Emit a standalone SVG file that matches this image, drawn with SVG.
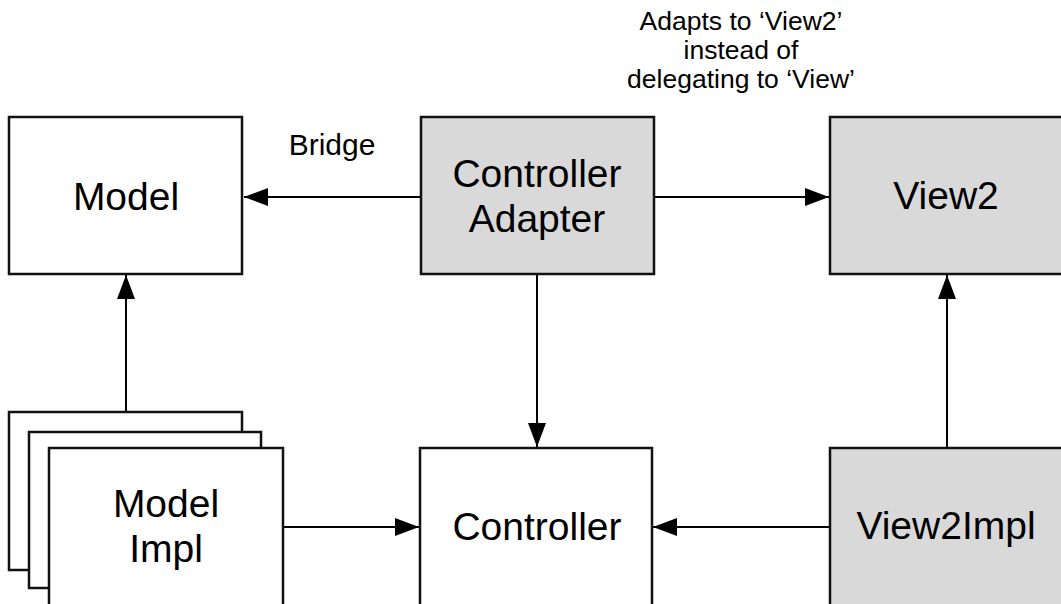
<svg xmlns="http://www.w3.org/2000/svg" width="1061" height="604" viewBox="0 0 1061 604">
<style>
.box{fill:#ffffff;stroke:#111111;stroke-width:2.5}
.gray{fill:#d9d9d9;stroke:#111111;stroke-width:2.5}
.lbl{font-family:"Liberation Sans",Arial,Helvetica,sans-serif;font-size:39px;fill:#000;text-anchor:middle}
.note{font-family:"Liberation Sans",Arial,Helvetica,sans-serif;fill:#000;text-anchor:middle}
.edge{stroke:#000;stroke-width:2;fill:none;marker-end:url(#ah)}
</style>
<defs>
<marker id="ah" markerUnits="userSpaceOnUse" markerWidth="24" markerHeight="18" refX="24" refY="9" orient="auto">
<path d="M0,0 L24,9 L0,18 z" fill="#000"/>
</marker>
</defs>
<rect width="1061" height="604" fill="#ffffff"/>
<g id="connectors">
<line class="edge" x1="421" y1="197" x2="244" y2="197"/>
<line class="edge" x1="654" y1="197" x2="829" y2="197"/>
<line class="edge" x1="537" y1="274" x2="537" y2="447"/>
<line class="edge" x1="947" y1="448" x2="947" y2="275"/>
<line class="edge" x1="830" y1="527" x2="653" y2="527"/>
<line class="edge" x1="283" y1="527" x2="419" y2="527"/>
<line class="edge" x1="126" y1="412" x2="126" y2="275"/>
</g>
<g id="model">
<rect class="box" x="9" y="117" width="233" height="157"/>
<text class="lbl" x="126" y="210">Model</text>
</g>
<g id="controller-adapter">
<rect class="gray" x="421" y="117" width="233" height="157"/>
<text class="lbl" x="537" y="187">Controller</text>
<text class="lbl" x="537" y="232">Adapter</text>
</g>
<g id="view2">
<rect class="gray" x="830" y="117" width="260" height="157"/>
<text class="lbl" x="946" y="209">View2</text>
</g>
<g id="model-impl">
<rect class="box" x="9" y="412" width="233" height="158"/>
<rect class="box" x="29" y="432" width="232" height="156"/>
<rect class="box" x="49" y="448" width="234" height="200"/>
<text class="lbl" x="166" y="517">Model</text>
<text class="lbl" x="166" y="562">Impl</text>
</g>
<g id="controller">
<rect class="box" x="420" y="448" width="232" height="200"/>
<text class="lbl" x="537" y="540">Controller</text>
</g>
<g id="view2impl">
<rect class="gray" x="830" y="448" width="260" height="200"/>
<text class="lbl" x="946" y="539">View2Impl</text>
</g>
<g id="labels">
<text class="note" x="332" y="155" font-size="30">Bridge</text>
<text class="note" x="741" y="30" font-size="26.5">Adapts to ‘View2’</text>
<text class="note" x="741" y="59" font-size="26.5">instead of</text>
<text class="note" x="741" y="88" font-size="26.5">delegating to ‘View’</text>
</g>
</svg>
